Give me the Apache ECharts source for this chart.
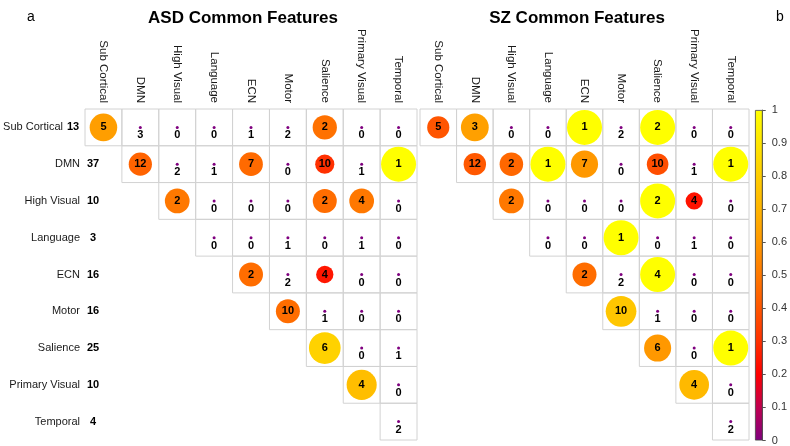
<!DOCTYPE html>
<html><head><meta charset="utf-8">
<script src="https://cdn.jsdelivr.net/npm/echarts@6/dist/echarts.min.js"></script>
<style>html,body{margin:0;padding:0;background:#fff}#c{width:790px;height:446px}</style>
</head><body><div id="c"></div>
<script>
const networks = ['Sub Cortical','DMN','High Visual','Language','ECN','Motor','Salience','Primary Visual','Temporal'];
const networkTotals = [13,37,10,3,16,16,25,10,4];
const _ = null;
const asdCounts = [
  [5,3,0,0,1,2,2,0,0],
  [_,12,2,1,7,0,10,1,1],
  [_,_,2,0,0,0,2,4,0],
  [_,_,_,0,0,1,0,1,0],
  [_,_,_,_,2,2,4,0,0],
  [_,_,_,_,_,10,1,0,0],
  [_,_,_,_,_,_,6,0,1],
  [_,_,_,_,_,_,_,4,0],
  [_,_,_,_,_,_,_,_,2]
];
const asdRatio = [
  [0.62,0,0,0,0,0,0.48,0,0],
  [_,0.44,0,0,0.46,0,0.3,0,1],
  [_,_,0.5,0,0,0,0.47,0.5,0],
  [_,_,_,0,0,0,0,0,0],
  [_,_,_,_,0.47,0,0.245,0,0],
  [_,_,_,_,_,0.47,0,0,0],
  [_,_,_,_,_,_,0.82,0,0],
  [_,_,_,_,_,_,_,0.74,0],
  [_,_,_,_,_,_,_,_,0]
];
const szCounts = [
  [5,3,0,0,1,2,2,0,0],
  [_,12,2,1,7,0,10,1,1],
  [_,_,2,0,0,0,2,4,0],
  [_,_,_,0,0,1,0,1,0],
  [_,_,_,_,2,2,4,0,0],
  [_,_,_,_,_,10,1,0,0],
  [_,_,_,_,_,_,6,0,1],
  [_,_,_,_,_,_,_,4,0],
  [_,_,_,_,_,_,_,_,2]
];
const szRatio = [
  [0.4,0.63,0,0,1,0,1,0,0],
  [_,0.41,0.45,1,0.6,0,0.38,0,1],
  [_,_,0.5,0,0,0,1,0.24,0],
  [_,_,_,0,0,1,0,0,0],
  [_,_,_,_,0.47,0,1,0,0],
  [_,_,_,_,_,0.77,0,0,0],
  [_,_,_,_,_,_,0.6,0,1],
  [_,_,_,_,_,_,_,0.72,0],
  [_,_,_,_,_,_,_,_,0]
];
const colorTicks = [0,0.1,0.2,0.3,0.4,0.5,0.6,0.7,0.8,0.9,1];
const colorMap = ['#7f007f','#c00050','#ff0000','#ff3000','#ff5500','#ff7800','#ff9800','#ffb400','#ffcd00','#ffe600','#ffff00'];

const FONT = '"Liberation Sans", Arial, sans-serif';

function cells(counts){
  const out = [];
  counts.forEach((row,r)=>row.forEach((v,c)=>{ if(v!==null) out.push([c,r]); }));
  return out;
}
function points(counts, ratios){
  const out = [];
  counts.forEach((row,r)=>row.forEach((v,c)=>{
    if(v===null) return;
    const q = ratios[r][c];
    out.push({value:[c,r,q,v], label:{offset: q>0 ? [0,0] : [0,8]}});
  }));
  return out;
}
function cellRender(params, api){
  const p = api.coord([api.value(0), api.value(1)]);
  const s = api.size([1,1]);
  return {type:'rect', shape:{x:p[0]-s[0]/2, y:p[1]-s[1]/2, width:s[0], height:s[1]},
    style:{fill:'none', stroke:'#d2d2d2', lineWidth:1}};
}

const rowLabels = networks.map((n,i)=> i===0
  ? '{n|'+n+'}{g0| }{c|'+networkTotals[i]+'}{sp| }'
  : '{n|'+n+'}{g| }{c|'+networkTotals[i]+'}');

const xAxisBase = {
  type:'category', data:networks, position:'top', boundaryGap:true,
  axisLine:{show:false}, axisTick:{show:false}, splitLine:{show:false},
  axisLabel:{rotate:90, margin:6, fontSize:11.5, color:'#1a1a1a', fontFamily:FONT, interval:0}
};
const scatterLabel = {show:true, position:'inside', formatter:p=>p.value[3], fontSize:11, fontWeight:'bold', color:'#000', fontFamily:FONT};

const chart = echarts.init(document.getElementById('c'));
chart.setOption({
  animation:false,
  textStyle:{fontFamily:FONT},
  grid:[
    {left:85, top:109, width:332, height:331},
    {left:420, top:109, width:329, height:331},
    {left:755, top:110, width:12, height:331}
  ],
  xAxis:[
    Object.assign({gridIndex:0}, xAxisBase),
    Object.assign({gridIndex:1}, xAxisBase),
    {gridIndex:2, type:'category', data:[''], show:false}
  ],
  yAxis:[
    {gridIndex:0, type:'category', data:rowLabels, inverse:true,
     axisLine:{show:false}, axisTick:{show:false}, splitLine:{show:false},
     axisLabel:{margin:-16, interval:0, color:'#222',
       rich:{
         n:{fontSize:11, color:'#1a1a1a', fontFamily:FONT},
         g:{width:5, fontSize:11},
         g0:{width:2, fontSize:11},
         sp:{width:20, fontSize:11},
         c:{fontSize:11, fontWeight:'bold', color:'#000', width:16, align:'center', fontFamily:FONT}
       }}},
    {gridIndex:1, type:'category', data:networks, inverse:true, show:false},
    {gridIndex:2, type:'value', min:0, max:1, interval:0.1, position:'right',
     axisLine:{show:true, lineStyle:{color:'#555', width:0.8}},
     axisTick:{show:true, length:3, lineStyle:{color:'#555'}},
     splitLine:{show:false},
     axisLabel:{margin:9, fontSize:11, color:'#333', fontFamily:FONT}}
  ],
  visualMap:{show:false, type:'continuous', min:0, max:1, dimension:2, seriesIndex:[2,3],
    inRange:{color:colorMap}},
  graphic:[
    {type:'text', x:31, y:17, style:{text:'a', font:'14px '+FONT, fill:'#000', align:'center', verticalAlign:'middle'}},
    {type:'text', x:780, y:17, style:{text:'b', font:'14px '+FONT, fill:'#000', align:'center', verticalAlign:'middle'}},
    {type:'text', x:243, y:18, style:{text:'ASD Common Features', font:'bold 17px '+FONT, fill:'#000', align:'center', verticalAlign:'middle'}},
    {type:'text', x:577, y:18, style:{text:'SZ Common Features', font:'bold 17px '+FONT, fill:'#000', align:'center', verticalAlign:'middle'}}
  ],
  series:[
    {type:'custom', xAxisIndex:0, yAxisIndex:0, data:cells(asdCounts), renderItem:cellRender, silent:true, z:1},
    {type:'custom', xAxisIndex:1, yAxisIndex:1, data:cells(szCounts), renderItem:cellRender, silent:true, z:1},
    {type:'scatter', xAxisIndex:0, yAxisIndex:0, data:points(asdCounts, asdRatio), z:3,
     itemStyle:{opacity:1},
     symbolSize:v=> v[2]>0 ? 35*Math.sqrt(v[2]) : 3,
     label:scatterLabel},
    {type:'scatter', xAxisIndex:1, yAxisIndex:1, data:points(szCounts, szRatio), z:3,
     itemStyle:{opacity:1},
     symbolSize:v=> v[2]>0 ? 35*Math.sqrt(v[2]) : 3,
     label:scatterLabel},
    {type:'bar', xAxisIndex:2, yAxisIndex:2, data:[colorTicks[colorTicks.length-1]], barWidth:'100%', silent:true,
     itemStyle:{borderColor:'#444', borderWidth:0.8,
       color:new echarts.graphic.LinearGradient(0,1,0,0, colorMap.map((c,i)=>({offset:colorTicks[i], color:c})))}}
  ]
});
</script></body></html>
